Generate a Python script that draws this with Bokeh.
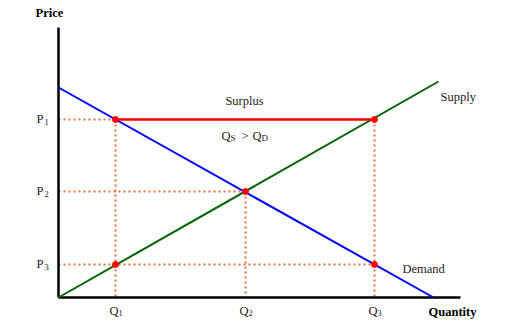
from bokeh.plotting import figure
from bokeh.models import Range1d
from bokeh.core.properties import value
from bokeh.embed import file_html
from bokeh.resources import INLINE

# Schematic supply/demand values (pixel-like units from the picture)
q_names = ["Q", "Q", "Q"]
q_subs = ["1", "2", "3"]
p_names = ["P", "P", "P"]
p_subs = ["1", "2", "3"]
q_vals = [57, 187, 316]       # Q1, Q2, Q3
p_vals = [178, 106, 33]       # P1, P2, P3
demand_q = [0, 375]
demand_p = [210, 0]
supply_q = [0, 380]
supply_p = [0, 216]
axis_q_max = 402
axis_p_max = 270

FONT = value("Liberation Serif")
DOT = "#E2703A"
TXT = "#222222"
FS = "12.5px"
SUB = "8.5px"

p = figure(width=516, height=333, output_backend="svg", toolbar_location=None,
           x_range=Range1d(-58, 458), y_range=Range1d(-36, 297),
           min_border=0, outline_line_color=None)
p.axis.visible = False
p.grid.visible = False

# dotted guide lines
q1, q2, q3 = q_vals
p1, p2, p3 = p_vals
p.segment(x0=[0, 0, 0, q1, q2, q3], y0=[p1, p2, p3, p1, p2, p1],
          x1=[q1, q2, q3, q1, q2, q3], y1=[p1, p2, p3, 0, 0, 0],
          line_color=DOT, line_width=2, line_dash="2 3")

# axes
p.line([0, 0], [0, axis_p_max], line_color="black", line_width=2.5)
p.line([0, axis_q_max], [0, 0], line_color="black", line_width=2.5)

# demand and supply
p.line(demand_q, demand_p, line_color="#0000FF", line_width=2)
p.line(supply_q, supply_p, line_color="#006400", line_width=2)

# surplus line
p.line([q1, q3], [p1, p1], line_color="#FF0000", line_width=2.5)

# points
p.scatter([q1, q2, q3, q1, q3], [p1, p2, p1, p3, p3], size=6,
          marker="circle", fill_color="#FF0000", line_color="#FF0000")

# tick labels (letter + subscript)
p.text(x=[-22] * 3, y=[v + 1 for v in p_vals], text=p_names, text_font=FONT,
       text_font_size=FS, text_align="left", text_baseline="middle", text_color=TXT)
p.text(x=[-14] * 3, y=[v - 2 for v in p_vals], text=p_subs, text_font=FONT,
       text_font_size=SUB, text_align="left", text_baseline="middle", text_color=TXT)
p.text(x=[v - 6 for v in q_vals], y=[-13] * 3, text=q_names, text_font=FONT,
       text_font_size=FS, text_align="left", text_baseline="middle", text_color=TXT)
p.text(x=[v + 3 for v in q_vals], y=[-15] * 3, text=q_subs, text_font=FONT,
       text_font_size=SUB, text_align="left", text_baseline="middle", text_color=TXT)

# axis titles
p.text(x=[-9], y=[285], text=["Price"], text_font=FONT, text_font_size=FS,
       text_font_style="bold", text_align="center", text_baseline="middle")
p.text(x=[394], y=[-14], text=["Quantity"], text_font=FONT, text_font_size=FS,
       text_font_style="bold", text_align="center", text_baseline="middle")

# annotations
p.text(x=[186], y=[197], text=["Surplus"], text_font=FONT, text_font_size=FS,
       text_align="center", text_baseline="middle", text_color=TXT)
p.text(x=[382], y=[201], text=["Supply"], text_font=FONT, text_font_size=FS,
       text_align="left", text_baseline="middle", text_color=TXT)
p.text(x=[344], y=[29], text=["Demand"], text_font=FONT, text_font_size=FS,
       text_align="left", text_baseline="middle", text_color=TXT)

# Qs > QD with small subscripts
p.text(x=[163, 194], y=[162, 162], text=["Q", "Q"], text_font=FONT, text_font_size=FS,
       text_align="left", text_baseline="middle", text_color=TXT)
p.text(x=[172, 203], y=[160, 160], text=["S", "D"], text_font=FONT, text_font_size="9px",
       text_align="left", text_baseline="middle", text_color=TXT)
p.text(x=[183], y=[162], text=[">"], text_font=FONT, text_font_size=FS,
       text_align="left", text_baseline="middle", text_color=TXT)

open("out.html", "w").write(file_html(p, INLINE))
